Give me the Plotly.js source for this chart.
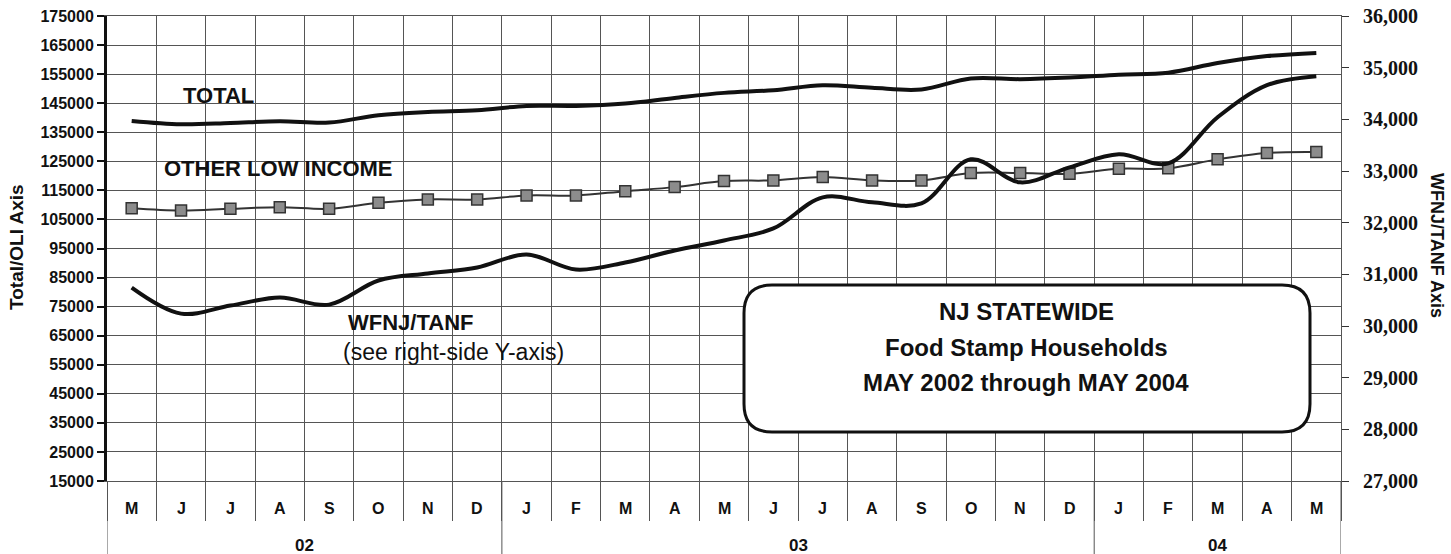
<!DOCTYPE html>
<html>
<head>
<meta charset="utf-8">
<script src="https://cdn.plot.ly/plotly-3.0.1.min.js"></script>
<style>
  html, body { margin: 0; padding: 0; background: #fff; }
  #chart { width: 1451px; height: 554px; }
</style>
</head>
<body>
<div id="chart"></div>
<script>
// ---- data ----
const months = ['M','J','J','A','S','O','N','D','J','F','M','A','M','J','J','A','S','O','N','D','J','F','M','A','M'];
const years = ['02', '03', '04'];
const yearFirstMonth = [0, 8, 20];
const yearLastMonth = [7, 19, 24];

const totalHouseholds = [138900,137750,138200,138780,138330,140850,141990,142570,144060,144060,144880,146820,148550,149470,151200,150270,149720,153500,153270,153800,154800,155500,158800,161200,162300];
const otherLowIncome = [108870,108080,108670,109220,108670,110740,111870,111870,113250,113250,114740,116120,118190,118430,119570,118430,118430,120950,120950,120740,122470,122570,125670,127850,128190];
const wfnjTanf = [30744,30240,30395,30550,30414,30880,31016,31132,31384,31093,31229,31462,31656,31888,32490,32393,32373,33226,32780,33071,33324,33149,34041,34662,34836];

const leftTicks = [];
for (let v = 15000; v <= 175000; v += 10000) leftTicks.push(v);
const rightTicks = [];
for (let v = 27000; v <= 36000; v += 1000) rightTicks.push(v);

// ---- chart ----
const xIdx = months.map((_, i) => i);
const boundaries = [];
for (let i = 0; i <= months.length; i++) boundaries.push(i - 0.5);

const GRID = '#555';
const SANS = 'Liberation Sans, Arial, sans-serif';
const SERIF = 'Liberation Serif, Times New Roman, serif';

const traces = [
  { x: xIdx, y: totalHouseholds, type: 'scatter', mode: 'lines', name: 'TOTAL',
    line: { color: '#111', width: 4, shape: 'spline' }, yaxis: 'y' },
  { x: xIdx, y: otherLowIncome, type: 'scatter', mode: 'lines+markers', name: 'OTHER LOW INCOME',
    line: { color: '#333', width: 2, shape: 'spline' },
    marker: { symbol: 'square', size: 11, color: '#8c8c8c', line: { color: '#333', width: 1.5 } }, yaxis: 'y' },
  { x: xIdx, y: wfnjTanf, type: 'scatter', mode: 'lines', name: 'WFNJ/TANF',
    line: { color: '#111', width: 4, shape: 'spline' }, yaxis: 'y2' }
];

const L = 107, R = 110, T = 16, B = 73, W = 1451, H = 554;
const pw = W - L - R, ph = H - T - B;
const px = (xp) => (xp - L) / pw;
const py = (yp) => (H - B - yp) / ph;

function note(xp, yp, text, font, extra) {
  return Object.assign({ x: px(xp), y: py(yp), xref: 'paper', yref: 'paper', text: text,
    showarrow: false, xanchor: 'center', yanchor: 'middle', font: font }, extra || {});
}

const annotations = [];
months.forEach((m, i) => annotations.push({
  x: i, xref: 'x', y: py(508), yref: 'paper', text: m, showarrow: false,
  font: { family: SANS, size: 16, color: '#111', weight: 'bold' }, xanchor: 'center', yanchor: 'middle'
}));
years.forEach((yr, k) => annotations.push({
  x: (yearFirstMonth[k] + yearLastMonth[k]) / 2, xref: 'x', y: py(546), yref: 'paper', text: yr, showarrow: false,
  font: { family: 'Liberation Sans Narrow, ' + SANS, size: 17, color: '#111', weight: 'bold' }, xanchor: 'center', yanchor: 'middle'
}));

const labelFont = { family: SANS, size: 22, color: '#111', weight: 'bold' };
const boxFont = { family: SANS, size: 24, color: '#111', weight: 'bold' };
annotations.push(
  note(218, 96, 'TOTAL', labelFont),
  note(278, 168, 'OTHER LOW INCOME', labelFont),
  note(410, 322, 'WFNJ/TANF', labelFont),
  note(453, 352, '(see right-side Y-axis)', { family: SANS, size: 23, color: '#111' }),
  note(1026, 312, 'NJ STATEWIDE', boxFont),
  note(1026, 347, 'Food Stamp Households', boxFont),
  note(1026, 382, 'MAY 2002 through MAY 2004', boxFont),
  note(16, 247, 'Total/OLI Axis', { family: SANS, size: 19, color: '#111', weight: 'bold' }, { textangle: -90 }),
  note(1437, 245, 'WFNJ/TANF Axis', { family: SANS, size: 18, color: '#111', weight: 'bold' }, { textangle: 90 })
);

// rounded box in paper coordinates
const bx0 = px(744), bx1 = px(1310), byT = py(285), byB = py(432);
const rx = 28 / pw, ry = 28 / ph;
const boxPath = `M ${bx0 + rx} ${byT} L ${bx1 - rx} ${byT} Q ${bx1} ${byT} ${bx1} ${byT - ry} ` +
  `L ${bx1} ${byB + ry} Q ${bx1} ${byB} ${bx1 - rx} ${byB} L ${bx0 + rx} ${byB} Q ${bx0} ${byB} ${bx0} ${byB + ry} ` +
  `L ${bx0} ${byT - ry} Q ${bx0} ${byT} ${bx0 + rx} ${byT} Z`;

const shapes = [
  { type: 'path', xref: 'paper', yref: 'paper', path: boxPath, fillcolor: '#fff',
    line: { color: '#111', width: 3 }, layer: 'above' }
];
// year dividers and table borders
const dividers = [-0.5, 24.5].concat(yearLastMonth.slice(0, -1).map(v => v + 0.5));
dividers.forEach(xv => shapes.push({
  type: 'line', xref: 'x', yref: 'paper', x0: xv, x1: xv, y0: -B / ph, y1: 0,
  line: { color: GRID, width: 1 }
}));

const layout = {
  width: W, height: H,
  margin: { l: L, r: R, t: T, b: B },
  paper_bgcolor: '#fff', plot_bgcolor: '#fff',
  showlegend: false,
  xaxis: {
    range: [-0.5, 24.5], tickmode: 'array', tickvals: boundaries, ticktext: boundaries.map(() => ''),
    showgrid: true, gridcolor: GRID, gridwidth: 1, zeroline: false,
    ticks: 'outside', ticklen: 39, tickcolor: GRID, tickwidth: 1,
    showline: true, linecolor: GRID, linewidth: 1, mirror: true, fixedrange: true
  },
  yaxis: {
    range: [15000, 175000], tickmode: 'array', tickvals: leftTicks, ticktext: leftTicks.map(String),
    showgrid: true, gridcolor: GRID, gridwidth: 1, zeroline: false,
    showline: true, linecolor: '#111', linewidth: 3,
    ticks: 'outside', ticklen: 7, tickwidth: 2, tickcolor: '#111',
    tickfont: { family: SANS, size: 16, color: '#111', weight: 'bold' }
  },
  yaxis2: {
    overlaying: 'y', side: 'right', range: [27000, 36000], tickmode: 'array', tickvals: rightTicks,
    ticktext: rightTicks.map(v => v.toLocaleString('en-US')),
    showgrid: false, zeroline: false, showline: true, linecolor: GRID, linewidth: 1,
    ticks: 'outside', ticklen: 7, tickwidth: 1, tickcolor: '#333', ticklabelstandoff: 10,
    tickfont: { family: SERIF, size: 20, color: '#111', weight: 'bold' }
  },
  annotations: annotations,
  shapes: shapes
};

Plotly.newPlot('chart', traces, layout, { staticPlot: true, displayModeBar: false });
</script>
</body>
</html>
